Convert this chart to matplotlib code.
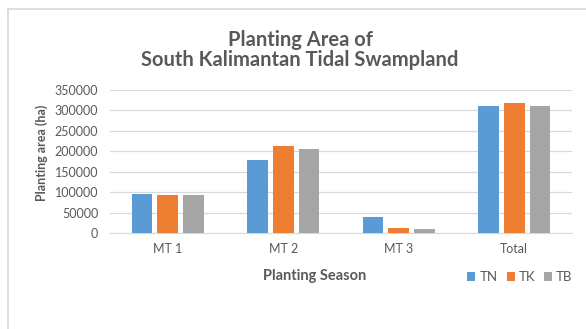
import matplotlib
matplotlib.use("Agg")
import matplotlib.pyplot as plt
import numpy as np
from matplotlib.lines import Line2D
from matplotlib.patches import Patch

categories = ["MT 1", "MT 2", "MT 3", "Total"]
series_names = ["TN", "TK", "TB"]
tn = [96000, 178500, 40000, 311000]
tk = [93000, 213500, 13500, 318000]
tb = [94500, 206500, 9500, 311000]
colors = ["#5B9BD5", "#ED7D31", "#A5A5A5"]
yticks = [0, 50000, 100000, 150000, 200000, 250000, 300000, 350000]

plt.rcParams['font.family'] = ['Lato', 'DejaVu Sans']
txt = "#595959"

fig = plt.figure(figsize=(5.86, 3.29), dpi=100)
W, H = 586, 329
ax = fig.add_axes([110 / W, 1 - 233.3 / H, (572 - 110) / W, (233.3 - 90) / H])

x = np.arange(len(categories))
step = 0.222
width = 0.178
for i, (vals, c) in enumerate(zip([tn, tk, tb], colors)):
    ax.bar(x + (i - 1) * step, vals, width=width, color=c, zorder=3)

ax.set_xlim(-0.5, 3.5)
ax.set_ylim(0, 350000)
ax.set_yticks(yticks)
ax.set_yticklabels([str(v) for v in yticks])
ax.set_xticks(x)
ax.set_xticklabels(categories)
ax.grid(axis='y', color="#D9D9D9", linewidth=0.9, zorder=0)
for s in ["top", "right", "left"]:
    ax.spines[s].set_visible(False)
ax.spines["bottom"].set_color("#D9D9D9")
ax.tick_params(axis='both', length=0, labelsize=9, colors=txt)
ax.tick_params(axis='y', pad=8.5)
ax.tick_params(axis='x', pad=7)

fig.text(300 / W, 1 - 40 / H, "Planting Area of", ha='center', va='center',
         fontsize=14.5, fontweight='bold', color=txt)
fig.text(300 / W, 1 - 60 / H, "South Kalimantan Tidal Swampland", ha='center', va='center',
         fontsize=14.5, fontweight='bold', color=txt)
fig.text(315 / W, 1 - 276 / H, "Planting Season", ha='center', va='center',
         fontsize=10.5, fontweight='bold', color=txt)
fig.text(42 / W, 1 - 153 / H, "Planting area (ha)", ha='center', va='center',
         rotation=90, fontsize=9, fontweight='bold', color=txt)

handles = [Patch(facecolor=c, edgecolor='none') for c in colors]
leg = fig.legend(handles, series_names, loc='center', bbox_to_anchor=(520 / W, 1 - 277 / H),
                 ncol=3, frameon=False, fontsize=9.5, handlelength=0.6, handleheight=0.6,
                 handletextpad=0.3, columnspacing=0.7, borderpad=0)
for t in leg.get_texts():
    t.set_color(txt)

# chart border (left and top visible)
fig.add_artist(Line2D([7.5 / W, 7.5 / W], [0, 1 - 8.5 / H], transform=fig.transFigure,
                      color="#D9D9D9", linewidth=1.2))
fig.add_artist(Line2D([7.5 / W, 1], [1 - 8.5 / H, 1 - 8.5 / H], transform=fig.transFigure,
                      color="#D9D9D9", linewidth=1.2))

fig.savefig("out.png", dpi=100, facecolor="white")
